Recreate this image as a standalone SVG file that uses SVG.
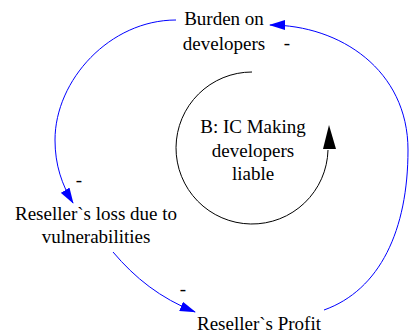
<svg xmlns="http://www.w3.org/2000/svg" width="409" height="333" viewBox="0 0 409 333">
  <style>
    text { font-size: 19px; fill: #000; }
    .mid { text-anchor: middle; }
    .link { fill: none; stroke: #0000ff; stroke-width: 1; }
    .loop { fill: none; stroke: #000; stroke-width: 1; }
  </style>
  <defs>
    <marker id="blueHead" markerWidth="16" markerHeight="10" refX="15" refY="5" orient="auto" markerUnits="userSpaceOnUse">
      <path d="M0,0 L16,5 L0,10 Z" fill="#0000ff"/>
    </marker>
  </defs>
  <rect width="409" height="333" fill="#fff"/>

  <g font-family="Liberation Serif, serif">
  <g id="connectors">
    <path class="link" d="M176,20 C110,20 55,80 55,140 C55,165 62,185 73,203" marker-end="url(#blueHead)"/>
    <path class="link" d="M113,252 C135,278 160,298 195,312" marker-end="url(#blueHead)"/>
    <path class="link" d="M324,310 C380,290 408,230 408,150 C408,70 340,25 270,25" marker-end="url(#blueHead)"/>
    <text x="287" y="49" class="mid">-</text>
    <text x="79" y="186" class="mid">-</text>
    <text x="183" y="295" class="mid">-</text>
  </g>

  <g id="burden">
    <text x="224" y="25" class="mid">Burden on</text>
    <text x="224" y="50" class="mid">developers</text>
  </g>

  <g id="loss">
    <text x="96" y="220" class="mid">Reseller`s loss due to</text>
    <text x="96" y="243" class="mid">vulnerabilities</text>
  </g>

  <g id="profit">
    <text x="259" y="330" class="mid">Reseller`s Profit</text>
  </g>

  <g id="loop-b">
    <path class="loop" d="M252,72 A76,76 0 1 0 328,150"/>
    <path d="M323,149 L329,125 L336,149 Z" fill="#000"/>
    <text x="253" y="133" class="mid">B: IC Making</text>
    <text x="253" y="157" class="mid">developers</text>
    <text x="253" y="180" class="mid">liable</text>
  </g>
  </g>
</svg>
